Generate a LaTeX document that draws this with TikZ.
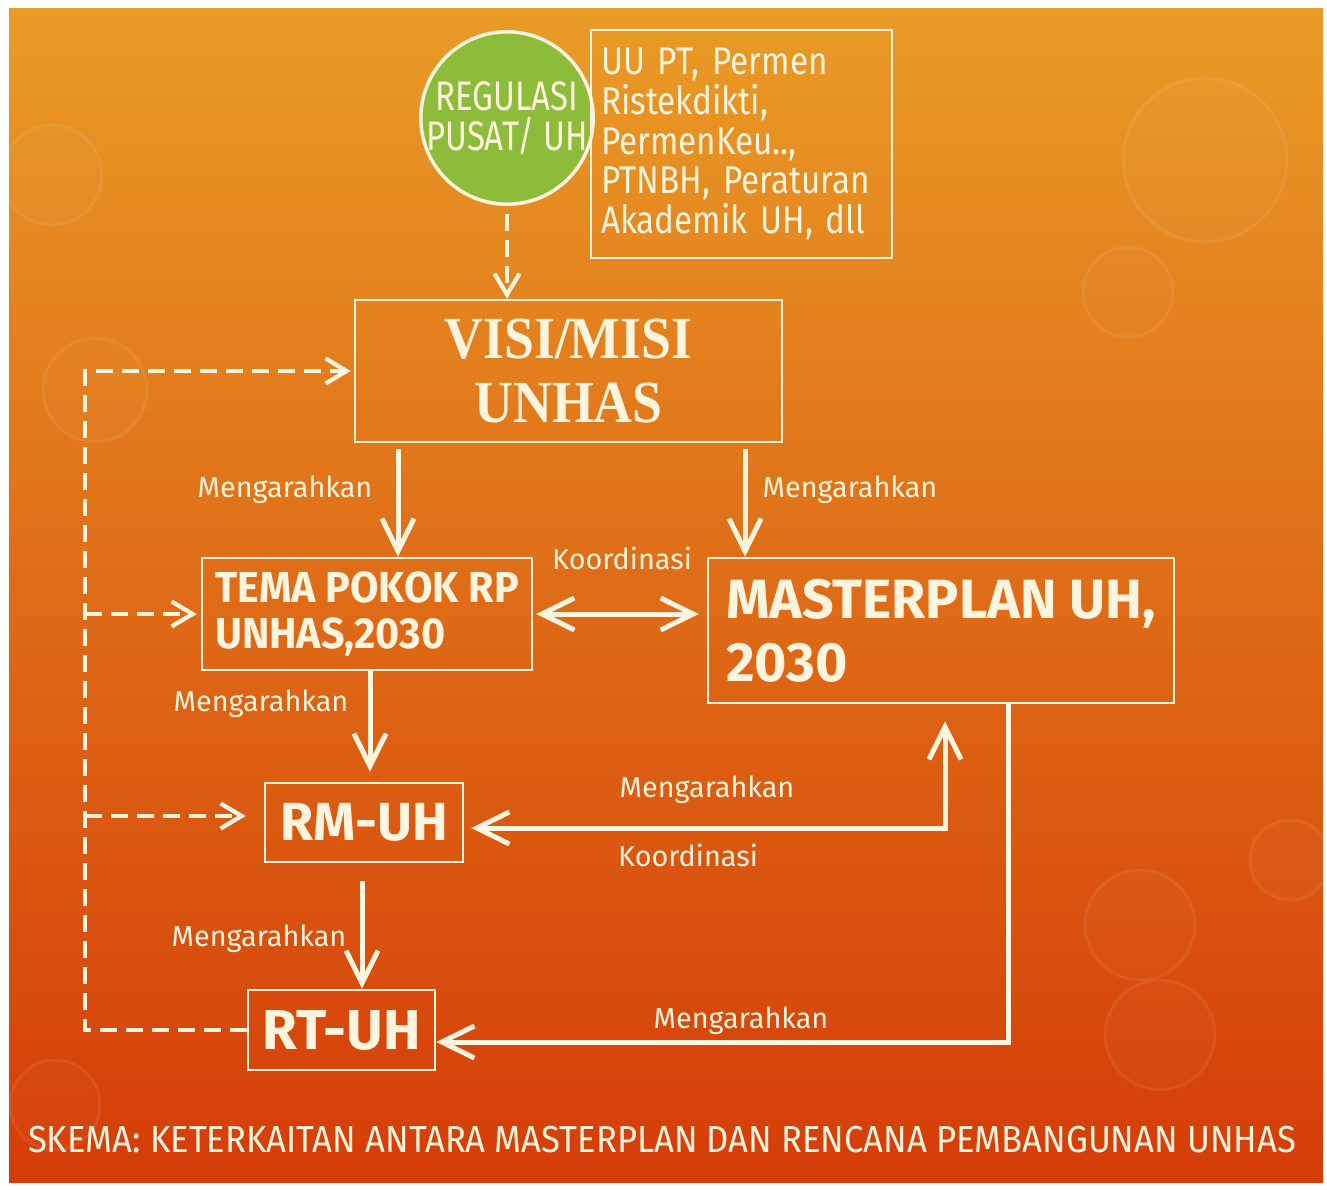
\documentclass[tikz,border=0pt]{standalone}
\usepackage{fontspec}
\setmainfont{Fira Sans}
\newfontfamily\narrowfont[FakeStretch=0.86]{Fira Sans}
\newfontfamily\titlefont[FakeStretch=0.92]{Fira Sans}
\newfontfamily\circfont[FakeStretch=0.8]{Fira Sans}
\newfontfamily\boldnarrow[FakeStretch=0.95]{Fira Sans}
\newfontfamily\serifnarrow[FakeStretch=0.9]{Liberation Serif}
\usepackage{xcolor}
\usetikzlibrary{positioning, calc, arrows.meta}

\definecolor{cream}{RGB}{255,244,222}
\definecolor{bgtop}{RGB}{233,155,38}
\definecolor{bgmid}{RGB}{230,114,28}
\definecolor{bgbot}{RGB}{213,60,8}
\definecolor{leafgreen}{RGB}{141,187,58}

\tikzset{
    box/.style={draw=cream, line width=0.5mm, text=cream, inner sep=0pt},
    lbl/.style={text=cream, anchor=base, font=\fontsize{16.4}{19}\selectfont},
    arrowline/.style={draw=cream, line width=1mm, -{Straight Barb[length=6.5mm,width=6.4mm]}},
    twoway/.style={draw=cream, line width=1mm, {Straight Barb[length=6.5mm,width=6.4mm]}-{Straight Barb[length=6.5mm,width=6.4mm]}},
    dashline/.style={draw=cream, line width=0.85mm, dash pattern=on 3.4mm off 1.8mm},
    dasharrow/.style={dashline, -{Straight Barb[length=4.2mm,width=5mm]}},
    bokeh/.style={draw=white, line width=0.6mm, draw opacity=0.07, fill=white, fill opacity=0.025}
}

\begin{document}
\begin{tikzpicture}[x=0.02cm, y=-0.02cm]
    \useasboundingbox (0,0) rectangle (1327,1189);
    \fill[white] (0,0) rectangle (1327,1189);
    \fill[top color=bgtop, middle color=bgmid, bottom color=bgbot] (9,9) rectangle (1323,1182);
    \begin{scope}
        \clip (9,9) rectangle (1323,1182);
        \foreach \cx/\cy/\r in {52/175/50, 1205/160/82, 1128/292/45, 95/390/52, 1140/925/55, 1160/1035/55, 55/1105/45, 1290/860/40}
            \draw[bokeh] (\cx,\cy) circle[radius=\r];
    \end{scope}

    % nodes
    \node[circle, draw=cream, line width=0.7mm, fill=leafgreen, minimum size=3.45cm, inner sep=0pt] (reg) at (507,118) {};
    \node[text=cream, align=center, font=\circfont\fontsize{23.5}{22.7}\selectfont] (regtxt) at (reg.center) {REGULASI\\PUSAT/ UH};
    \node[box, inner xsep=0.2cm, text width=5.62cm, minimum height=4.56cm, align=left, font=\narrowfont\fontsize{22}{22.7}\selectfont] (law) at (741.5,144) {UU PT, Permen\\Ristekdikti,\\PermenKeu..,\\PTNBH, Peraturan\\Akademik UH, dll};
    \node[box, minimum width=8.54cm, minimum height=2.84cm, align=center, font=\serifnarrow\bfseries\fontsize{34}{36.3}\selectfont] (visi) at (568.5,371) {VISI/MISI\\UNHAS};
    \node[box, minimum width=6.6cm, minimum height=2.24cm, align=left, font=\boldnarrow\bfseries\fontsize{24.7}{26.6}\selectfont] (tema) at (367,614) {TEMA POKOK RP\\UNHAS,2030};
    \node[box, minimum width=9.32cm, minimum height=2.9cm, align=left, font=\bfseries\fontsize{31.5}{35.7}\selectfont] (master) at (941,630.5) {MASTERPLAN UH,\\2030};
    \node[box, minimum width=3.96cm, minimum height=1.58cm, font=\bfseries\fontsize{30.5}{32}\selectfont] (rm) at (364,822.5) {RM-UH};
    \node[box, minimum width=3.74cm, minimum height=1.6cm, font=\bfseries\fontsize{32}{34}\selectfont] (rt) at (341.5,1030) {RT-UH};
    \coordinate (fb) at (85,1030);

    % labels
    \node[lbl] (m1) at (285,497) {Mengarahkan};
    \node[lbl] (m2) at (850,497) {Mengarahkan};
    \node[lbl] (k1) at (622,569) {Koordinasi};
    \node[lbl] (m3) at (261,711) {Mengarahkan};
    \node[lbl] (m4) at (707,797) {Mengarahkan};
    \node[lbl] (k2) at (688,866) {Koordinasi};
    \node[lbl] (m5) at (259,946) {Mengarahkan};
    \node[lbl] (m6) at (741,1028) {Mengarahkan};
    \node[text=cream, anchor=base, font=\titlefont\fontsize{21.4}{24}\selectfont] (title) at (662,1152) {SKEMA: KETERKAITAN ANTARA MASTERPLAN DAN RENCANA PEMBANGUNAN UNHAS};

    % connectors
    \draw[dasharrow, shorten <=0.16cm] (reg.south) -- (reg.south |- visi.north);
    \draw[arrowline, shorten <=0.12cm] ([xshift=0.62cm]tema.north |- visi.south) -- ([xshift=0.62cm]tema.north);
    \draw[arrowline, shorten <=0.12cm] ([xshift=-3.92cm]master.north |- visi.south) -- ([xshift=-3.92cm]master.north);
    \draw[twoway, shorten <=0.06cm, shorten >=0.16cm] (tema.east) -- (tema.east -| master.west);
    \draw[arrowline, shorten >=0.2cm] ([xshift=0.12cm]rm.north |- tema.south) -- ([xshift=0.12cm]rm.north);
    \draw[twoway, shorten <=0.34cm, shorten >=0.14cm] ([xshift=0.08cm]master.south) |- ([yshift=-0.11cm]rm.east);
    \draw[arrowline, shorten <=0.36cm] ([xshift=0.41cm]rt.north |- rm.south) -- ([xshift=0.41cm]rt.north);
    \draw[arrowline] ([xshift=1.34cm]master.south) |- ([yshift=-0.24cm]rt.east);
    \draw[dasharrow, shorten >=0.06cm] (rt.west) -- (fb) |- (visi.west);
    \draw[dasharrow, shorten >=0.08cm] (fb |- tema.west) -- (tema.west);
    \draw[dasharrow, shorten >=0.36cm] ([yshift=0.13cm]fb |- rm.west) -- ([yshift=0.13cm]rm.west);
\end{tikzpicture}
\end{document}
